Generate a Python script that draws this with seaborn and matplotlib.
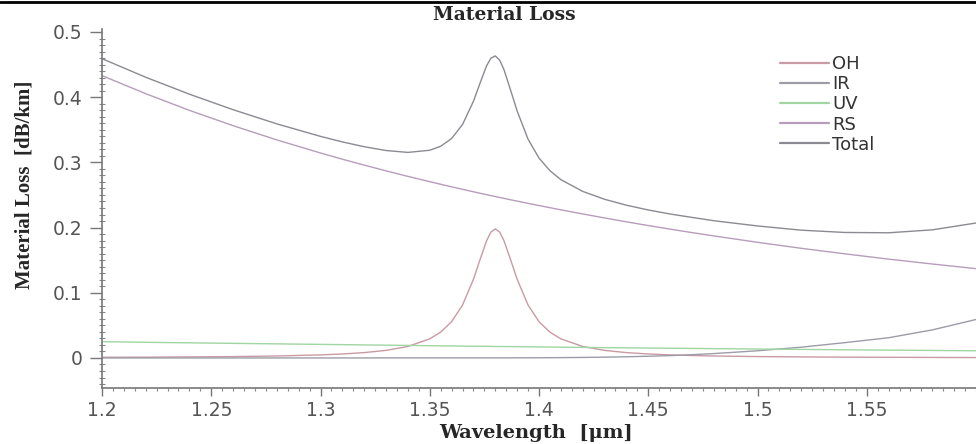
import numpy as np
import pandas as pd
import matplotlib
matplotlib.use("Agg")
import matplotlib.pyplot as plt
from matplotlib.lines import Line2D
from matplotlib.ticker import MultipleLocator, FixedLocator, FixedFormatter
import seaborn as sns

# Wavelength grid [um] and attenuation components [dB/km]
wavelength = [1.20, 1.22, 1.24, 1.26, 1.28, 1.30, 1.31, 1.32, 1.33, 1.34,
              1.35, 1.355, 1.36, 1.365, 1.37, 1.373, 1.376, 1.378, 1.38, 1.382,
              1.384, 1.387, 1.39, 1.395, 1.40, 1.405, 1.41, 1.42, 1.43, 1.44,
              1.45, 1.46, 1.47, 1.48, 1.50, 1.52, 1.54, 1.56, 1.58, 1.60]

oh_loss = [0.0010, 0.0012, 0.0016, 0.0021, 0.0030, 0.0047, 0.0061, 0.0082, 0.0116, 0.0176,
           0.0293, 0.0396, 0.0556, 0.0811, 0.1207, 0.1507, 0.1796, 0.1931, 0.1980, 0.1931,
           0.1796, 0.1507, 0.1207, 0.0811, 0.0556, 0.0396, 0.0293, 0.0176, 0.0116, 0.0082,
           0.0061, 0.0047, 0.0037, 0.0030, 0.0021, 0.0016, 0.0012, 0.0010, 0.0008, 0.0006]

ir_loss = [0.0000, 0.0000, 0.0000, 0.0000, 0.0000, 0.0000, 0.0000, 0.0000, 0.0001, 0.0001,
           0.0001, 0.0001, 0.0001, 0.0001, 0.0001, 0.0001, 0.0001, 0.0001, 0.0001, 0.0001,
           0.0001, 0.0001, 0.0002, 0.0002, 0.0003, 0.0004, 0.0005, 0.0008, 0.0012, 0.0018,
           0.0026, 0.0036, 0.0050, 0.0067, 0.0110, 0.0165, 0.0235, 0.0310, 0.0430, 0.0590]

uv_loss = [0.0250, 0.0240, 0.0232, 0.0224, 0.0216, 0.0208, 0.0204, 0.0200, 0.0196, 0.0192,
           0.0188, 0.0186, 0.0184, 0.0182, 0.0180, 0.0179, 0.0178, 0.0177, 0.0176, 0.0175,
           0.0175, 0.0174, 0.0173, 0.0171, 0.0169, 0.0167, 0.0165, 0.0162, 0.0158, 0.0155,
           0.0152, 0.0149, 0.0146, 0.0143, 0.0137, 0.0131, 0.0125, 0.0120, 0.0115, 0.0110]

rs_loss = [0.4331, 0.4054, 0.3798, 0.3563, 0.3345, 0.3144, 0.3049, 0.2958, 0.2870, 0.2785,
           0.2704, 0.2664, 0.2625, 0.2587, 0.2549, 0.2527, 0.2505, 0.2490, 0.2476, 0.2462,
           0.2448, 0.2426, 0.2406, 0.2371, 0.2338, 0.2305, 0.2272, 0.2209, 0.2148, 0.2088,
           0.2031, 0.1976, 0.1923, 0.1872, 0.1774, 0.1682, 0.1597, 0.1516, 0.1441, 0.1370]

total_loss = [0.4591, 0.4306, 0.4046, 0.3808, 0.3591, 0.3399, 0.3314, 0.3240, 0.3182, 0.3153,
              0.3186, 0.3247, 0.3366, 0.3581, 0.3937, 0.4214, 0.4480, 0.4599, 0.4633, 0.4569,
              0.4420, 0.4108, 0.3788, 0.3355, 0.3066, 0.2872, 0.2735, 0.2555, 0.2434, 0.2343,
              0.2270, 0.2208, 0.2156, 0.2105, 0.2025, 0.1960, 0.1925, 0.1920, 0.1965, 0.2070]

components = ["OH", "IR", "UV", "RS", "Total"]
line_colors = ["#c99aa3", "#9c9ca8", "#9fd6a2", "#b89cbc", "#8a8a92"]

x_ticks = [1.2, 1.25, 1.3, 1.35, 1.4, 1.45, 1.5, 1.55]
x_tick_labels = ["1.2", "1.25", "1.3", "1.35", "1.4", "1.45", "1.5", "1.55"]
y_ticks = [0.0, 0.1, 0.2, 0.3, 0.4, 0.5]
y_tick_labels = ["0", "0.1", "0.2", "0.3", "0.4", "0.5"]

series = {"OH": oh_loss, "IR": ir_loss, "UV": uv_loss, "RS": rs_loss, "Total": total_loss}
df = pd.concat(
    [pd.DataFrame({"Wavelength": wavelength, "Loss": vals, "Component": name})
     for name, vals in series.items()],
    ignore_index=True,
)

sns.set_style("white")
plt.rcParams["font.family"] = ["DejaVu Sans"]

W, H = 976, 444
fig = plt.figure(figsize=(W / 100, H / 100), dpi=100)
ax = fig.add_axes([102 / W, 1 - 388 / H, 1 - 102 / W, (388 - 29) / H])

sns.lineplot(data=df, x="Wavelength", y="Loss", hue="Component",
             hue_order=components, palette=dict(zip(components, line_colors)),
             estimator=None, sort=False, linewidth=1.0, ax=ax, legend=False)

ax.set_xlim(1.2, 1.6)
ax.set_ylim(-0.0461, 0.5046)

for side in ("top", "right"):
    ax.spines[side].set_visible(False)
for side in ("left", "bottom"):
    ax.spines[side].set_color("#777777")
    ax.spines[side].set_linewidth(1.2)

ax.xaxis.set_major_locator(FixedLocator(x_ticks))
ax.xaxis.set_major_formatter(FixedFormatter(x_tick_labels))
ax.xaxis.set_minor_locator(MultipleLocator(0.005))
ax.yaxis.set_major_locator(FixedLocator(y_ticks))
ax.yaxis.set_major_formatter(FixedFormatter(y_tick_labels))
ax.yaxis.set_minor_locator(MultipleLocator(0.01))

ax.tick_params(axis="x", which="major", direction="out", length=5.5, width=1.0,
               color="#777777", labelsize=13.5, labelcolor="#555555", pad=4, bottom=True)
ax.tick_params(axis="x", which="minor", direction="out", length=2.5, width=0.8,
               color="#888888", bottom=True)
ax.tick_params(axis="y", which="major", direction="out", length=9, width=1.0,
               color="#777777", labelsize=13.5, labelcolor="#555555", pad=5, left=True)
ax.tick_params(axis="y", which="minor", direction="inout", length=4, width=0.8,
               color="#888888", left=True)

serif = ["DejaVu Serif"]
ax.set_xlabel("Wavelength  [\u03bcm]", fontsize=14, fontweight="bold", family=serif)
ax.xaxis.set_label_coords(0.497, -0.100)
ax.set_ylabel("Material Loss  [dB/km]", fontsize=15, fontweight="bold",
              family=["Liberation Serif", "DejaVu Serif"])
ax.yaxis.set_label_coords(-0.0767, 0.565)

fig.text(504 / W, 1 - 15 / H, "Material Loss", ha="center", va="center",
         fontsize=13.5, fontweight="bold", family=serif)

# rule across the top of the page
fig.add_artist(Line2D([0, 1], [1 - 2.5 / H, 1 - 2.5 / H], transform=fig.transFigure,
                      color="black", linewidth=2.0))

handles = [Line2D([], [], color=c, linewidth=1.6) for c in line_colors]
ax.legend(handles, components, loc="upper left",
          bbox_to_anchor=(780 / W, 1 - 55 / H), bbox_transform=fig.transFigure,
          frameon=False, fontsize=13, borderpad=0, borderaxespad=0,
          handlelength=2.7, handletextpad=0.2, labelspacing=0.12,
          labelcolor="#333333")

fig.savefig("out.png", dpi=100)
